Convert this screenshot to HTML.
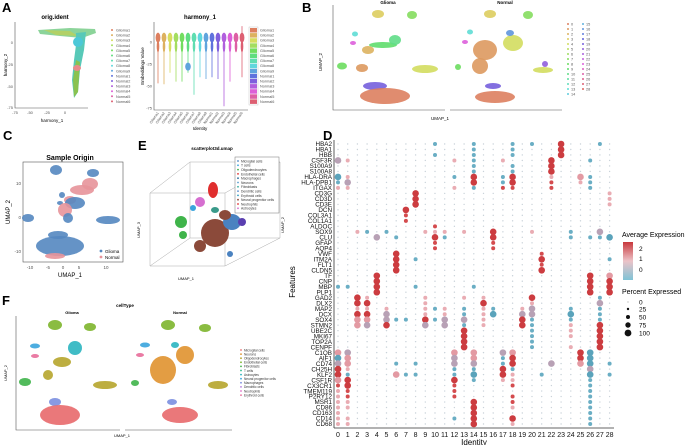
<!DOCTYPE html>
<html><head><meta charset="utf-8"><style>
html,body{margin:0;padding:0;background:#fff;}
svg{display:block;font-family:"Liberation Sans",sans-serif;}
</style></head><body>
<svg id="fig" width="685" height="445" viewBox="0 0 685 445">
<g font-weight="bold" font-size="13">
<text x="2" y="12">A</text>
<text x="302" y="12">B</text>
<text x="3" y="140">C</text>
<text x="138" y="150">E</text>
<text x="323" y="140">D</text>
<text x="2" y="305">F</text>
</g>
<g id="gA"></g>
<g id="gB"></g>
<g id="gC"></g>
<g id="gE"></g>
<g id="gD"></g>
<g id="gF"></g>
</svg>
<script>
const NS="http://www.w3.org/2000/svg";
function mk(p,tag,a,txt){const e=document.createElementNS(NS,tag);for(const k in a)e.setAttribute(k,a[k]);if(txt!==undefined)e.textContent=txt;p.appendChild(e);return e;}
function hue(i,n){return "hsl("+(15+360*i/n)+",65%,62%)";}

// ---------- Panel D data ----------
const genes=["HBA2","HBA1","HBB","CSF3R","S100A9","S100A8","HLA-DRA","HLA-DPB1","ITGAX","CD3G","CD3D","CD3E","DCN","COL3A1","COL1A1","ALDOC","SOX9","CLU","GFAP","AQP4","VWF","ITM2A","FLT1","CLDN5","TF","CNP","MBP","PLP1","GAD2","DLX2","MAP2","DCX","SOX4","STMN2","UBE2C","MKI67","TOP2A","CENPF","C1QB","AIF1","CD74","CH25H","KLF2","CSF1R","CX3CR1","TMEM119","P2RY12","MSR1","CD86","CD163","CD14","CD68"];
const identities=["0","1","2","3","4","5","6","7","8","9","10","11","12","13","14","15","16","17","18","19","20","21","22","23","24","25","26","27","28"];
const dotCodes=["10b 14b 18b 20b 23R 27b","14b 18b 23R","10b 14b 18b 23R","0m 1p 12p 14b 17p 22R 26b","14b 18b 22R","14b 18b 22R",
"0B 1p 12b 14R 17b 18R 22p 25P 26b","0b 1m 14R 17b 18R 22r 25p 26b","0p 1p 12p 14b 17r 18r 22r 26b",
"8R 28p","8R 28p","8R 28p","7R","7r","7r","10r",
"2p 3b 5b 9p 10p 11p 13p 16R 20p 24b 27m","4m 6b 10R 11b 16R 24b 26b 27b 28B","10r 16r","10r 16r",
"6R 21r","6R 8b 21R 28b","6R 21r","6R 21R","4R 26R 28P","4R 26R 28R","0b 1b 4R 8b 14b 26R 28R","4R 26R 28R",
"2R 3p 9p 13p 15p 20R 27b","2R 3R 9p 15R 20p 27m","2p 3p 5p 9p 10b 11p 13b 15p 16b 19p 20m 24b 27b",
"2R 3R 5m 9p 11p 13b 15p 16B 19m 20m 24B 27b","2P 3P 5m 6b 7b 9R 10b 11m 13m 15p 19R 20b 24b 27b","2P 3m 5R 9m 11m 13b 15p 19R 20b 24p 27R",
"13R 20b 24p 27R","13R 20b 24p 27R","13R 20b 27R","13R 20b 24p 27R",
"0P 1m 12P 14P 17m 18P 25R 26B","0B 1P 12m 14P 17b 18R 25R 26B","0m 1P 6b 8b 12m 14m 17b 18R 22m 25P 26B 28b",
"0R 1p 12b 14b 17R 18b 26m","0R 1b 6P 7b 8b 12b 14B 17R 18p 21b 26B 28b","0P 1R 12R 14b 17p 18p 26b",
"0r 1R 12r 18r 26b","0p 1r 12r 26b","0p 1r 12r 18r 26b","0p 1p 14R 18r 26b","0p 1p 14R 18p 26b","0p 14R 26b","0p 1p 12b 14R 18R 26b","0p 1p 14R 18p 26b"];
const codeColor={".":"#c9d2d9",b:"#6aaec4",B:"#5aa3bb",p:"#e9acb3",P:"#e39aa3",r:"#d44b4e",R:"#cc3c40",m:"#b8a1b5"};
const codeRadius={".":0.7,b:2,B:3.3,p:2,P:3.3,r:2,R:3.3,m:3.3};
function xD(i){return 338+i*9.7;}
function yD(g){return 144+g*5.49;}

// ---------- Panel A data ----------
const sampleNames=["Glioma1","Glioma2","Glioma3","Glioma4","Glioma5","Glioma6","Glioma7","Glioma8","Glioma9","Normal1","Normal2","Normal3","Normal4","Normal5","Normal6"];
const violinMin=[-47,-48,-35,-45,-45,-35,-60,-40,-42,-40,-42,-73,-45,-10,-40];
const violinMax=[10,10,10,10,10,10,10,10,10,10,10,10,10,10,18];
// ---------- Panel B data ----------
const clusterIds=[];for(let i=0;i<29;i++)clusterIds.push(String(i));
// ---------- Panel E/F cell types ----------
const cellTypes=["Microglial cells","T cells","Oligodendrocytes","Endothelial cells","Macrophages","Neurons","Fibroblasts","Dendritic cells","Erythroid cells","Neural progenitor cells","Neutrophils","Astrocytes"];
const cellTypesF=["Microglial cells","Neurons","Oligodendrocytes","Endothelial cells","Fibroblasts","T cells","Astrocytes","Neural progenitor cells","Macrophages","Dendritic cells","Neutrophils","Erythroid cells"];
const cellColorsF=["#e8696b","#e0922f","#b6a52c","#7db52c","#3fb44a","#2fb98b","#2bb5c0","#3aa4dd","#7b8fe0","#b57be0","#dc6fc9","#e86d9a"];

// ===== Draw D =====
(function(){
const g=document.getElementById("gD");
mk(g,"line",{x1:334,y1:140,x2:334,y2:428,stroke:"#333","stroke-width":0.8});
mk(g,"line",{x1:334,y1:428,x2:614,y2:428,stroke:"#333","stroke-width":0.8});
genes.forEach((gn,gi)=>{
  const t=mk(g,"text",{x:332,y:yD(gi)+2.2,"font-size":6.3,"text-anchor":"end",fill:"#111"},gn);
  
  
  const map={};dotCodes[gi].split(" ").forEach(s=>{if(s)map[parseInt(s)]=s.replace(/[0-9]/g,"");});
  identities.forEach((id,ii)=>{
    const c=map[ii]||".";
    const d=mk(g,"circle",{cx:xD(ii),cy:yD(gi),r:codeRadius[c],fill:codeColor[c]});
    
    
  });
});
identities.forEach((id,ii)=>{
  const t=mk(g,"text",{x:xD(ii),y:437,"font-size":7,"text-anchor":"middle",fill:"#111"},id);
  
  
});
const xt=mk(g,"text",{x:474,y:445,"font-size":8,"text-anchor":"middle"},"Identity");

const yt=mk(g,"text",{x:0,y:0,"font-size":8,"text-anchor":"middle",transform:"translate(295,282) rotate(-90)"},"Features");

const lg=mk(g,"g",{});
mk(lg,"text",{x:622,y:237,"font-size":7},"Average Expression");
const defs=mk(lg,"defs",{});const gr=mk(defs,"linearGradient",{id:"cb",x1:0,y1:0,x2:0,y2:1});
mk(gr,"stop",{offset:"0","stop-color":"#c8383d"});mk(gr,"stop",{offset:"0.5","stop-color":"#ecc3c8"});mk(gr,"stop",{offset:"1","stop-color":"#7fc3d6"});
mk(lg,"rect",{x:623,y:242,width:10,height:38,fill:"url(#cb)"});
[["2",249],["1",259],["0",270]].forEach(a=>mk(lg,"text",{x:639,y:a[1]+2,"font-size":6.5},a[0]));
mk(lg,"text",{x:622,y:294,"font-size":7},"Percent Expressed");
[["0",0.4,302],["25",1.2,309],["50",2,317],["75",2.7,325],["100",3.4,333]].forEach(a=>{mk(lg,"circle",{cx:628,cy:a[2],r:a[1],fill:"#111"});mk(lg,"text",{x:639,y:a[2]+2.3,"font-size":6.5},a[0]);});
})();

// ===== Draw A =====
(function(){
const g=document.getElementById("gA");
mk(g,"text",{x:55,y:19,"font-size":6,"font-weight":"bold","text-anchor":"middle"},"orig.ident");
mk(g,"polyline",{points:"15,22 15,108 88,108",fill:"none",stroke:"#555","stroke-width":0.6});
[["0",42],["-25",64],["-50",86],["-75",107]].forEach(a=>mk(g,"text",{x:13,y:a[1]+2,"font-size":4,"text-anchor":"end",fill:"#555"},a[0]));
[["-75",15],["-50",30],["-25",47],["0",65]].forEach(a=>mk(g,"text",{x:a[1],y:114,"font-size":4,"text-anchor":"middle",fill:"#555"},a[0]));
mk(g,"text",{x:52,y:122,"font-size":4.5,"text-anchor":"middle"},"harmony_1");
mk(g,"text",{x:0,y:0,"font-size":4.5,"text-anchor":"middle",transform:"translate(7,65) rotate(-90)"},"harmony_2");
const sc=mk(g,"g",{});
mk(sc,"polygon",{points:"38,30 70,28 95,29 96,33 82,38 60,36 40,34",fill:"#7fcf8f",opacity:0.9});
mk(sc,"polygon",{points:"44,30 70,31 78,36 56,35",fill:"#bcd05a",opacity:0.8});
mk(sc,"polygon",{points:"76,33 86,32 84,50 80,70 78,92 74,98 72,80 74,60 76,45",fill:"#58c9b8"});
mk(sc,"polygon",{points:"76,60 80,62 78,92 74,97 73,80",fill:"#8ac250"});
mk(sc,"ellipse",{cx:77,cy:68,rx:4,ry:3,fill:"#e98a8a"});
mk(sc,"ellipse",{cx:78,cy:42,rx:5,ry:5,fill:"#4cc8d8"});
sampleNames.forEach((n,i)=>{const y=30+i*5.1;mk(g,"circle",{cx:112,cy:y,r:1,fill:hue(i,15)});mk(g,"text",{x:116,y:y+1.5,"font-size":3.8,fill:"#555"},n);});
mk(g,"text",{x:200,y:19,"font-size":6,"font-weight":"bold","text-anchor":"middle"},"harmony_1");
mk(g,"polyline",{points:"154,22 154,110 248,110",fill:"none",stroke:"#555","stroke-width":0.6});
const yV=v=>42-v*0.88;
[["0",0],["-25",-25],["-50",-50],["-75",-75]].forEach(a=>mk(g,"text",{x:152,y:yV(a[1])+1.5,"font-size":4,"text-anchor":"end",fill:"#555"},a[0]));
mk(g,"text",{x:0,y:0,"font-size":4.5,"text-anchor":"middle",transform:"translate(144,66) rotate(-90)"},"Embeddings Value");
sampleNames.forEach((n,i)=>{
  const x=158+i*6, c=hue(i,15);
  const v=mk(g,"g",{});
  mk(v,"line",{x1:x,y1:yV(violinMax[i]),x2:x,y2:yV(violinMin[i]),stroke:c,"stroke-width":0.8});
  mk(v,"ellipse",{cx:x,cy:yV(5),rx:2.4,ry:5,fill:c});
  mk(v,"ellipse",{cx:x,cy:yV(-5),rx:1.3,ry:6,fill:c});
  mk(g,"text",{x:0,y:0,"font-size":3.6,fill:"#555","text-anchor":"end",transform:"translate("+(x+1)+",113) rotate(-55)"},n);
});
mk(g,"ellipse",{cx:188,cy:yV(-28),rx:2.8,ry:4,fill:hue(8,15)});
mk(g,"text",{x:200,y:130,"font-size":4.5,"text-anchor":"middle"},"Identity");
mk(g,"rect",{x:249,y:27,width:9,height:78,fill:"none",stroke:"#bbb","stroke-width":0.4});
sampleNames.forEach((n,i)=>{const y=28+i*5.1;mk(g,"rect",{x:250,y:y,width:7,height:4.5,fill:hue(i,15)});mk(g,"text",{x:260,y:y+3.5,"font-size":3.8,fill:"#555"},n);});
})();

// ===== Draw B =====
(function(){
const g=document.getElementById("gB");
mk(g,"text",{x:388,y:4,"font-size":4.5,"font-weight":"bold","text-anchor":"middle"},"Glioma");
mk(g,"text",{x:505,y:4,"font-size":4.5,"font-weight":"bold","text-anchor":"middle"},"Normal");
mk(g,"polyline",{points:"333,5 333,110 445,110",fill:"none",stroke:"#555","stroke-width":0.6});
mk(g,"line",{x1:450,y1:110,x2:562,y2:110,stroke:"#555","stroke-width":0.6});
mk(g,"text",{x:440,y:120,"font-size":4.5,"text-anchor":"middle"},"UMAP_1");
mk(g,"text",{x:0,y:0,"font-size":4.5,"text-anchor":"middle",transform:"translate(322,62) rotate(-90)"},"UMAP_2");
const cl=[
[378,14,6,4,3],[412,15,5,4,7],[355,34,3,2.5,13],[353,43,3,2,23],[383,45,14,3,9],[368,50,6,4,2],[342,66,5,3.5,8],[362,68,6,4,1],[375,86,12,4,19],[385,96,25,8,0],[425,69,13,4,4],[395,40,6,5,10],
[490,14,6,4,3],[528,15,5,4,7],[470,32,3,2.5,13],[465,42,3,2,23],[485,50,12,10,1],[480,66,8,8,1],[513,43,10,8,4],[510,33,4,3,16],[458,67,3,3,8],[493,86,8,3,19],[495,97,20,6,0],[543,70,10,3,4],[545,64,3,3,20]];
cl.forEach(c=>{const e=mk(g,"ellipse",{cx:c[0],cy:c[1],rx:c[2],ry:c[3],fill:hue(c[4],29),opacity:0.9});});
clusterIds.forEach((id,i)=>{const col=i<15?0:1,row=i<15?i:i-15;const x=568+col*15,y=24+row*5;mk(g,"circle",{cx:x,cy:y,r:1,fill:hue(i,29)});mk(g,"text",{x:x+3,y:y+1.5,"font-size":3.8,fill:"#555"},id);});
})();

// ===== Draw C =====
(function(){
const g=document.getElementById("gC");
mk(g,"text",{x:70,y:160,"font-size":7,"font-weight":"bold","text-anchor":"middle"},"Sample Origin");
mk(g,"rect",{x:23,y:162,width:100,height:100,fill:"none",stroke:"#555","stroke-width":0.6});
[["-10",30],["-5",48],["0",63],["5",79],["10",106]].forEach(a=>mk(g,"text",{x:a[1],y:269,"font-size":4.5,"text-anchor":"middle",fill:"#555"},a[0]));
[["10",185],["0",219],["-10",253]].forEach(a=>mk(g,"text",{x:21,y:a[1],"font-size":4.5,"text-anchor":"end",fill:"#555"},a[0]));
mk(g,"text",{x:70,y:277,"font-size":6,"text-anchor":"middle"},"UMAP_1");
mk(g,"text",{x:0,y:0,"font-size":6,"text-anchor":"middle",transform:"translate(10,212) rotate(-90)"},"UMAP_2");
const blue="#5487c0",pink="#e7939a";
[[56,170,6,5,blue],[93,173,6,4,blue],[62,195,3,3,blue],[60,203,3,2,blue],[70,200,6,4,pink],[82,190,12,5,pink],[75,203,10,6,blue],[65,210,7,7,pink],[68,218,5,5,blue],[28,218,6,4,blue],[108,220,12,4,blue],[60,246,24,10,blue],[55,256,10,3,pink],[58,235,10,4,blue],[90,184,8,6,pink]].forEach(c=>{const e=mk(g,"ellipse",{cx:c[0],cy:c[1],rx:c[2],ry:c[3],fill:c[4],opacity:0.9});});
mk(g,"circle",{cx:101,cy:251,r:1.4,fill:blue});mk(g,"text",{x:105,y:253,"font-size":4.5},"Glioma");
mk(g,"circle",{cx:101,cy:257,r:1.4,fill:pink});mk(g,"text",{x:105,y:259,"font-size":4.5},"Normal");
})();

// ===== Draw E =====
(function(){
const g=document.getElementById("gE");
mk(g,"text",{x:212,y:150,"font-size":4.5,"font-weight":"bold","text-anchor":"middle"},"scatterplot3d.umap");
const L={stroke:"#aaa","stroke-width":0.5,fill:"none"};
mk(g,"polyline",Object.assign({points:"150,193 190,162 280,162 280,238 225,266 150,266 150,193"},L));
mk(g,"polyline",Object.assign({points:"150,193 225,193 280,162"},L));
mk(g,"line",Object.assign({x1:225,y1:193,x2:225,y2:266},L));
mk(g,"line",Object.assign({x1:190,y1:162,x2:190,y2:238},L));
mk(g,"polyline",Object.assign({points:"150,266 190,238 280,238"},L));
mk(g,"text",{x:186,y:280,"font-size":4,"text-anchor":"middle"},"UMAP_1");
mk(g,"text",{x:0,y:0,"font-size":4,"text-anchor":"middle",transform:"translate(140,230) rotate(-90)"},"UMAP_3");
mk(g,"text",{x:0,y:0,"font-size":4,"text-anchor":"middle",transform:"translate(284,225) rotate(-90)"},"UMAP_2");
[[181,222,6,6,"#3fb44a"],[183,235,4,4,"#3fb44a"],[213,190,5,8,"#e02e2e"],[200,202,5,5,"#d66fd0"],[193,208,3,3,"#3aa4dd"],[215,233,14,14,"#8b4a3a"],[200,246,6,6,"#8b4a3a"],[232,222,9,8,"#4a82c0"],[225,215,6,5,"#8b4a3a"],[242,222,4,4,"#5a3fb0"],[230,254,3,3,"#4a82c0"],[215,210,4,3,"#3a9a8a"]].forEach(c=>{const e=mk(g,"ellipse",{cx:c[0],cy:c[1],rx:c[2],ry:c[3],fill:c[4]});});
mk(g,"rect",{x:235,y:157,width:44,height:56,fill:"#fff",stroke:"#777","stroke-width":0.5});
const cols=["#4a82c0","#3aa4dd","#3fb44a","#e02e2e","#2f6f9f","#5a9fd0","#3aaea0","#5b8fd0","#2e9cc0","#8b4a3a","#e02e2e","#d66fd0"];
cellTypes.forEach((n,i)=>{const y=161+i*4.3;mk(g,"circle",{cx:238,cy:y,r:0.9,fill:cols[i]});mk(g,"text",{x:241,y:y+1.4,"font-size":3.3,fill:"#333"},n);});
})();

// ===== Draw F =====
(function(){
const g=document.getElementById("gF");
mk(g,"text",{x:125,y:307,"font-size":4.5,"font-weight":"bold","text-anchor":"middle"},"cellType");
mk(g,"text",{x:72,y:314,"font-size":4,"font-weight":"bold","text-anchor":"middle"},"Glioma");
mk(g,"text",{x:180,y:314,"font-size":4,"font-weight":"bold","text-anchor":"middle"},"Normal");
mk(g,"polyline",{points:"16,316 16,430 120,430",fill:"none",stroke:"#555","stroke-width":0.6});
mk(g,"line",{x1:125,y1:430,x2:232,y2:430,stroke:"#555","stroke-width":0.6});
mk(g,"text",{x:122,y:437,"font-size":4,"text-anchor":"middle"},"UMAP_1");
mk(g,"text",{x:0,y:0,"font-size":4,"text-anchor":"middle",transform:"translate(7,373) rotate(-90)"},"UMAP_2");
const cl=[[55,325,7,5,3],[90,327,6,4,3],[35,346,5,2.5,7],[35,356,4,2,11],[62,362,9,5,2],[75,348,7,7,6],[48,375,5,5,2],[25,382,6,4,4],[105,385,12,4,2],[55,402,6,4,8],[60,415,20,10,0],
[168,325,7,5,3],[205,328,6,4,3],[145,345,5,2.5,7],[140,355,4,2,11],[163,370,13,14,1],[185,355,9,9,1],[175,345,4,3,6],[135,383,4,3,4],[218,385,10,4,2],[172,402,5,3,8],[180,415,18,8,0]];
cl.forEach(c=>{const e=mk(g,"ellipse",{cx:c[0],cy:c[1],rx:c[2],ry:c[3],fill:cellColorsF[c[4]],opacity:0.9});});
cellTypesF.forEach((n,i)=>{const y=350+i*4.1;mk(g,"circle",{cx:241,cy:y,r:0.9,fill:cellColorsF[i]});mk(g,"text",{x:244,y:y+1.3,"font-size":3.2,fill:"#333"},n);});
})();
</script>
</body></html>
